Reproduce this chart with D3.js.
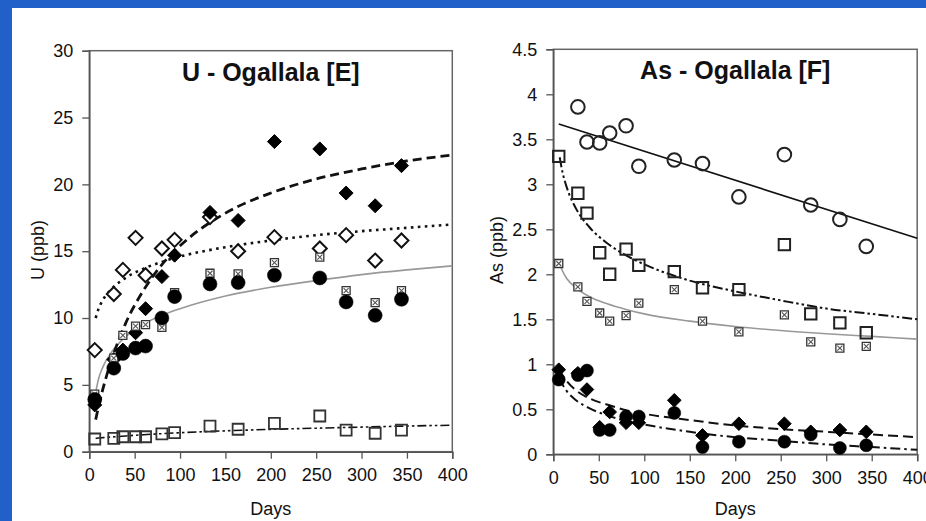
<!DOCTYPE html>
<html>
<head>
<meta charset="utf-8">
<script src="https://cdn.jsdelivr.net/npm/d3@7"></script>
<style>
  html, body { margin: 0; padding: 0; background: #2160c8; }
  svg { display: block; }
  text { font-family: Arial, "Liberation Sans", sans-serif; fill: #111; }
</style>
</head>
<body>
<svg id="chart"></svg>
<script>
// sampling days (same for every series)
var days = [6, 27, 37, 51, 62, 80, 94, 133, 164, 204, 254, 283, 315, 344];

// U - Ogallala [E]
var uFilledDiamond = [3.5, 6.9, 7.6, 8.9, 10.7, 13.1, 14.7, 17.9, 17.3, 23.2, 22.65, 19.35, 18.4, 21.4];
var uOpenDiamond = [7.6, 11.8, 13.6, 16.0, 13.2, 15.2, 15.85, 17.55, 15.0, 16.05, 15.2, 16.2, 14.3, 15.8];
var uFilledCircle = [3.9, 6.25, 7.35, 7.75, 7.9, 10.0, 11.6, 12.55, 12.65, 13.2, 13.0, 11.2, 10.2, 11.4];
var uXSquare = [4.3, 7.0, 8.7, 9.4, 9.5, 9.3, 11.9, 13.35, 13.3, 14.15, 14.55, 12.05, 11.15, 12.05];
var uOpenSquare = [0.95, 1.0, 1.12, 1.12, 1.12, 1.33, 1.42, 1.92, 1.68, 2.12, 2.67, 1.62, 1.38, 1.62];

// fitted trend lines
var fitDays = [7, 10, 15, 25, 40, 60, 80, 100, 150, 200, 250, 300, 350, 400];
var uFitDashed = [2.4, 3.3, 4.7, 6.95, 9.6, 12.1, 14.0, 15.4, 17.85, 19.35, 20.4, 21.15, 21.75, 22.2];
var uFitDotted = [10.0, 10.65, 11.35, 12.2, 13.0, 13.7, 14.2, 14.6, 15.3, 15.8, 16.2, 16.5, 16.75, 17.0];
var uFitGray = [4.4, 5.4, 6.35, 7.5, 8.6, 9.55, 10.2, 10.7, 11.65, 12.3, 12.8, 13.25, 13.6, 13.9];
var uFitDashDot = [1.0, 1.02, 1.05, 1.1, 1.18, 1.27, 1.35, 1.42, 1.56, 1.67, 1.76, 1.84, 1.92, 1.98];

// As - Ogallala [F]
var asOpenCircle = [null, 3.86, 3.47, 3.46, 3.57, 3.65, 3.2, 3.27, 3.23, 2.86, 3.33, 2.77, 2.61, 2.31];
var asOpenSquare = [3.31, 2.9, 2.68, 2.24, 2.0, 2.28, 2.1, 2.03, 1.85, 1.83, 2.33, 1.56, 1.46, 1.35];
var asXSquare = [2.12, 1.86, 1.7, 1.57, 1.48, 1.54, 1.68, 1.83, 1.48, 1.36, 1.55, 1.25, 1.18, 1.2];
var asFilledDiamond = [0.94, 0.9, 0.72, 0.3, 0.47, 0.35, 0.35, 0.6, 0.21, 0.34, 0.34, 0.25, 0.27, 0.25];
var asFilledCircle = [0.83, 0.88, 0.93, 0.27, 0.27, 0.42, 0.42, 0.46, 0.08, 0.14, 0.14, 0.22, 0.07, 0.1];

var asLineDays = [6, 400];
var asFitSolid = [3.67, 2.4];
var asFitDashDot2 = [3.3, 3.14, 2.96, 2.73, 2.52, 2.34, 2.21, 2.11, 1.93, 1.81, 1.71, 1.62, 1.56, 1.5];
var asFitGray = [2.12, 2.04, 1.95, 1.85, 1.75, 1.67, 1.61, 1.56, 1.48, 1.42, 1.375, 1.34, 1.31, 1.28];
var asFitDashed = [0.95, 0.88, 0.81, 0.71, 0.62, 0.55, 0.49, 0.45, 0.38, 0.32, 0.28, 0.25, 0.22, 0.19];
var asFitDashDot = [0.85, 0.78, 0.7, 0.6, 0.51, 0.43, 0.37, 0.33, 0.25, 0.19, 0.15, 0.11, 0.08, 0.05];

var xTicks = [0, 50, 100, 150, 200, 250, 300, 350, 400];
var uTicks = [0, 5, 10, 15, 20, 25, 30];
var asTicks = [0, 0.5, 1, 1.5, 2, 2.5, 3, 3.5, 4, 4.5];

var width = 926, height = 521;
var svg = d3.select("svg#chart").attr("width", width).attr("height", height);

svg.append("rect").attr("width", width).attr("height", height).attr("fill", "#2160c8");
svg.append("rect").attr("x", 12).attr("y", 8).attr("width", width - 12).attr("height", height - 8).attr("fill", "#fff");

// custom marker shapes, size = half width
var shapes = {
  diamond: { draw: function (c, r) { c.moveTo(0, -r); c.lineTo(r, 0); c.lineTo(0, r); c.lineTo(-r, 0); c.closePath(); } },
  circle: { draw: function (c, r) { c.moveTo(r, 0); c.arc(0, 0, r, 0, 2 * Math.PI); } },
  square: { draw: function (c, r) { c.rect(-r, -r, 2 * r, 2 * r); } }
};

function makePanel(opt) {
  var g = svg.append("g");
  var x = d3.scaleLinear().domain([0, 400]).range([opt.left, opt.right]);
  var y = d3.scaleLinear().domain(opt.yDomain).range([opt.bottom, opt.top]);

  // frame
  g.append("rect")
    .attr("x", opt.left).attr("y", opt.top)
    .attr("width", opt.right - opt.left).attr("height", opt.bottom - opt.top)
    .attr("fill", "none").attr("stroke", "#666").attr("stroke-width", 1.5);

  var xAxis = g.append("g")
    .attr("transform", "translate(0," + opt.bottom + ")")
    .call(d3.axisBottom(x).tickValues(xTicks).tickSize(7).tickPadding(10).tickFormat(d3.format("d")));
  var yAxis = g.append("g")
    .attr("transform", "translate(" + opt.left + ",0)")
    .call(d3.axisLeft(y).tickValues(opt.yTicks).tickSize(7).tickPadding(9).tickFormat(opt.fmt));
  [xAxis, yAxis].forEach(function (a) {
    a.select(".domain").attr("stroke", "#555").attr("stroke-width", 1.5);
    a.selectAll(".tick line").attr("stroke", "#555").attr("stroke-width", 1.3);
    a.selectAll(".tick text").style("font-size", "18px").attr("fill", "#111");
  });

  g.append("text")
    .attr("x", (opt.left + opt.right) / 2).attr("y", opt.titleY)
    .attr("text-anchor", "middle")
    .style("font-size", "25px").style("font-weight", "bold")
    .text(opt.title);
  g.append("text")
    .attr("x", (opt.left + opt.right) / 2).attr("y", 515)
    .attr("text-anchor", "middle").style("font-size", "18px")
    .text("Days");
  g.append("text")
    .attr("transform", "translate(" + opt.yLabelX + ",250) rotate(-90)")
    .attr("text-anchor", "middle").style("font-size", "18px")
    .text(opt.yLabel);

  var plot = g.append("g");

  opt.fits.forEach(function (f) {
    var line = d3.line()
      .x(function (d, i) { return x(f.days[i]); })
      .y(function (d) { return y(d); })
      .curve(d3.curveMonotoneX);
    plot.append("path")
      .attr("d", line(f.values))
      .attr("fill", "none")
      .attr("stroke", f.color || "#111")
      .attr("stroke-width", f.width || 2)
      .attr("stroke-dasharray", f.dash || null);
  });

  opt.series.forEach(function (s) {
    var pts = days.map(function (d, i) { return { day: d, v: s.values[i] }; })
      .filter(function (p) { return p.v != null; });
    var sym = d3.symbol().type(shapes[s.shape]).size(s.r);
    var mk = plot.append("g").selectAll("g")
      .data(pts)
      .join("g")
      .attr("transform", function (p) { return "translate(" + x(p.day) + "," + y(p.v) + ")"; });
    mk.append("path")
      .attr("d", sym)
      .attr("fill", s.fill)
      .attr("stroke", s.stroke)
      .attr("stroke-width", s.sw);
    if (s.cross) {
      var c = s.r - 1.5;
      mk.append("path")
        .attr("d", "M" + -c + "," + -c + "L" + c + "," + c + "M" + c + "," + -c + "L" + -c + "," + c)
        .attr("stroke", "#555").attr("stroke-width", 1.1);
    }
  });
}

makePanel({
  left: 89.3, right: 452.3, top: 50.7, bottom: 451.7,
  yDomain: [0, 30], yTicks: uTicks, fmt: d3.format("d"),
  title: "U - Ogallala [E]", titleY: 81, yLabel: "U (ppb)", yLabelX: 44,
  fits: [
    { days: fitDays, values: uFitGray, color: "#999", width: 1.6 },
    { days: fitDays, values: uFitDashDot, width: 1.6, dash: "9,3,2.5,3,2.5,3" },
    { days: fitDays, values: uFitDotted, width: 2.6, dash: "2.6,4.4" },
    { days: fitDays, values: uFitDashed, width: 2.8, dash: "9,5" }
  ],
  series: [
    { values: uOpenSquare, shape: "square", r: 5.5, fill: "none", stroke: "#333", sw: 1.8 },
    { values: uOpenDiamond, shape: "diamond", r: 7, fill: "#fff", stroke: "#111", sw: 2 },
    { values: uFilledDiamond, shape: "diamond", r: 7, fill: "#000", stroke: "#000", sw: 1 },
    { values: uXSquare, shape: "square", r: 4, fill: "#fff", stroke: "#333", sw: 1.3, cross: true },
    { values: uFilledCircle, shape: "circle", r: 7, fill: "#000", stroke: "#000", sw: 0.5 }
  ]
});

makePanel({
  left: 553.3, right: 917.2, top: 49.3, bottom: 454.3,
  yDomain: [0, 4.5], yTicks: asTicks, fmt: d3.format("~g"),
  title: "As - Ogallala [F]", titleY: 79, yLabel: "As (ppb)", yLabelX: 503,
  fits: [
    { days: asLineDays, values: asFitSolid, width: 1.6 },
    { days: fitDays, values: asFitGray, color: "#999", width: 1.6 },
    { days: fitDays, values: asFitDashDot2, width: 2, dash: "10,3,2.5,3,2.5,3" },
    { days: fitDays, values: asFitDashed, width: 2, dash: "10,5" },
    { days: fitDays, values: asFitDashDot, width: 2, dash: "10,4,2.5,4" }
  ],
  series: [
    { values: asOpenCircle, shape: "circle", r: 6.8, fill: "none", stroke: "#222", sw: 2 },
    { values: asOpenSquare, shape: "square", r: 5.7, fill: "none", stroke: "#222", sw: 2 },
    { values: asXSquare, shape: "square", r: 4, fill: "#fff", stroke: "#333", sw: 1.3, cross: true },
    { values: asFilledDiamond, shape: "diamond", r: 6.8, fill: "#000", stroke: "#000", sw: 1 },
    { values: asFilledCircle, shape: "circle", r: 6.5, fill: "#000", stroke: "#000", sw: 0.5 }
  ]
});
</script>
</body>
</html>
